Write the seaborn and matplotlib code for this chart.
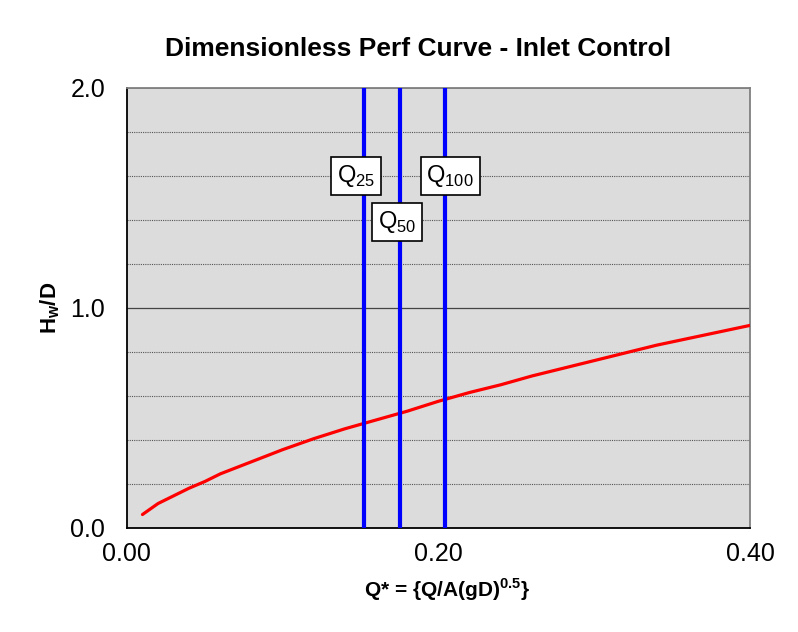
import matplotlib
matplotlib.use('Agg')
import matplotlib.pyplot as plt
import seaborn as sns
import pandas as pd
from matplotlib.ticker import MultipleLocator, FormatStrFormatter

# dimensionless performance curve
q_star = [0.01, 0.02, 0.03, 0.04, 0.05, 0.06, 0.08, 0.10, 0.12, 0.14, 0.16,
          0.18, 0.20, 0.22, 0.24, 0.26, 0.28, 0.30, 0.32, 0.34, 0.36, 0.38, 0.40]
hw_d = [0.06, 0.11, 0.145, 0.18, 0.21, 0.245, 0.30, 0.355, 0.405, 0.45, 0.49,
        0.53, 0.575, 0.615, 0.65, 0.69, 0.725, 0.76, 0.795, 0.83, 0.86, 0.89, 0.92]

# design flows
flow_names = ['25', '50', '100']
flow_q = [0.152, 0.175, 0.204]
label_x = [0.147, 0.1735, 0.2075]
label_y = [1.60, 1.39, 1.60]

df = pd.DataFrame({'q': q_star, 'h': hw_d})

sns.set_style('white')
plt.rcParams['font.family'] = ['Liberation Sans', 'DejaVu Sans']
plt.rcParams['text.color'] = 'black'
plt.rcParams['axes.labelcolor'] = 'black'
plt.rcParams['xtick.color'] = 'black'
plt.rcParams['ytick.color'] = 'black'

fig = plt.figure(figsize=(7.98, 6.32), dpi=100)
ax = fig.add_axes([0.159, 0.165, 0.781, 0.696])
ax.set_facecolor('#dcdcdc')

# gridlines
for yv in [0.2, 0.4, 0.6, 0.8, 1.2, 1.4, 1.6, 1.8]:
    ax.axhline(yv, color='#555555', lw=0.8, ls=(0, (1, 1)), zorder=1)
ax.axhline(1.0, color='#444444', lw=0.9, zorder=1)
ax.axhline(2.0, color='#808080', lw=1.2, zorder=1)

sns.lineplot(data=df, x='q', y='h', color='red', lw=2.3, ax=ax, zorder=3)

for name, qv, lx, ly in zip(flow_names, flow_q, label_x, label_y):
    ax.axvline(qv, color='#0000ff', lw=3, zorder=4)
    ax.text(lx, ly, 'Q$_{\\mathregular{' + name + '}}$', fontsize=17,
            ha='center', va='center', zorder=5,
            bbox=dict(boxstyle='square,pad=0.25', fc='white', ec='black', lw=1.2))

ax.set_xlim(0, 0.4)
ax.set_ylim(0, 2.0)
ax.xaxis.set_major_locator(MultipleLocator(0.2))
ax.xaxis.set_minor_locator(MultipleLocator(0.05))
ax.yaxis.set_major_locator(MultipleLocator(1.0))
ax.xaxis.set_major_formatter(FormatStrFormatter('%.2f'))
ax.yaxis.set_major_formatter(FormatStrFormatter('%.1f'))
ax.tick_params(axis='both', which='major', direction='inout', length=9, width=1,
               labelsize=18, color='black')
ax.tick_params(axis='x', which='minor', direction='in', length=5, width=0.8, color='black')
ax.tick_params(axis='x', which='major', pad=6)
ax.tick_params(axis='y', which='major', pad=11)

for s in ['left', 'bottom']:
    ax.spines[s].set_color('black')
    ax.spines[s].set_linewidth(1.3)
for s in ['top', 'right']:
    ax.spines[s].set_color('#808080')
    ax.spines[s].set_linewidth(1.3)

ax.set_xlabel('Q* = {Q/A(gD)$^{\\mathregular{0.5}}$}', fontsize=15,
              fontweight='bold')
ax.xaxis.set_label_coords(0.514, -0.11)
ax.set_ylabel('H$_{\\mathregular{w}}$/D', fontsize=16, fontweight='bold')
ax.yaxis.set_label_coords(-0.104, 0.5)
fig.text(0.524, 0.922, 'Dimensionless Perf Curve - Inlet Control', fontsize=19,
         fontweight='bold', ha='center', va='center')

fig.savefig('out.png', dpi=100)
